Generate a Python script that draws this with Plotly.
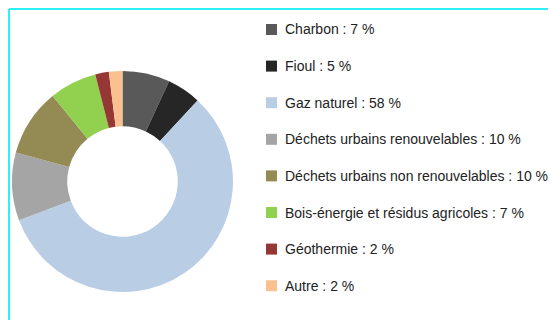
import plotly.graph_objects as go

# Energy mix shares (%)
labels = [
    "Charbon",
    "Fioul",
    "Gaz naturel",
    "Déchets urbains renouvelables",
    "Déchets urbains non renouvelables",
    "Bois-énergie et résidus agricoles",
    "Géothermie",
    "Autre",
]
values = [7, 5, 58, 10, 10, 7, 2, 2]
colors = ["#595959", "#262626", "#B9CDE5", "#A5A5A5",
          "#948A54", "#92D050", "#953735", "#FAC090"]

W, H = 548, 320
FONT = "Liberation Sans Narrow, Arial Narrow, sans-serif"

fig = go.Figure(go.Pie(
    labels=labels,
    values=values,
    marker=dict(colors=colors, line=dict(width=0)),
    hole=0.5,
    sort=False,
    direction="clockwise",
    rotation=0,
    textinfo="none",
    showlegend=False,
    domain=dict(x=[12 / W, 233 / W], y=[1 - 292 / H, 1 - 71 / H]),
))

# Frame lines (top and left)
frame = "#2CF2F6"
shapes = [
    dict(type="line", xref="paper", yref="paper", x0=9 / W, x1=1, y0=1 - 9 / H, y1=1 - 9 / H,
         line=dict(color=frame, width=2)),
    dict(type="line", xref="paper", yref="paper", x0=9 / W, x1=9 / W, y0=0, y1=1 - 9 / H,
         line=dict(color=frame, width=2)),
]

# Legend: swatch + "label : value %"
annotations = []
row0, pitch, sw = 29.5, 36.6, 11
for i, (lab, val, col) in enumerate(zip(labels, values, colors)):
    cy = row0 + i * pitch
    shapes.append(dict(type="rect", xref="paper", yref="paper",
                       x0=266 / W, x1=(266 + sw) / W,
                       y0=1 - (cy + sw / 2) / H, y1=1 - (cy - sw / 2) / H,
                       fillcolor=col, line=dict(width=0)))
    annotations.append(dict(xref="paper", yref="paper", x=283 / W, y=1 - cy / H,
                            xanchor="left", yanchor="middle", showarrow=False,
                            text=f"{lab} : {val} %",
                            font=dict(family=FONT, size=14, color="#222222")))

fig.update_layout(
    width=W, height=H,
    margin=dict(l=0, r=0, t=0, b=0),
    paper_bgcolor="white", plot_bgcolor="white",
    shapes=shapes, annotations=annotations,
)

fig.write_html("out.html")
